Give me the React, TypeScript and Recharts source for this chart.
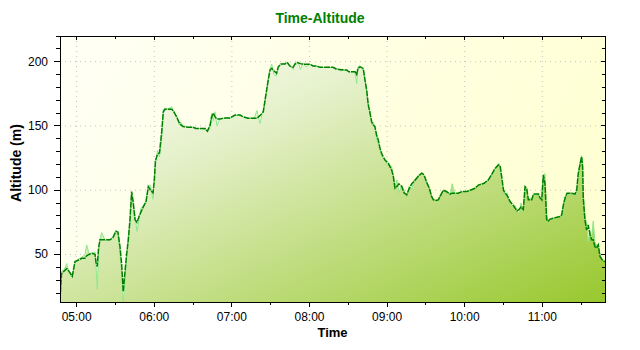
import React from "react";
import { ComposedChart, Area, Line, XAxis, YAxis, CartesianGrid } from "recharts";

// minutes since midnight
const minutes = [
  287.1, 288.3, 290.2, 292.3, 294.0, 296.6, 298.7, 301.0, 304.1, 306.4,
  307.7, 309.5, 311.8, 314.2, 314.9, 315.9, 316.9, 318.0, 319.3, 321.9,
  325.7, 328.0, 330.4, 331.9, 333.5, 334.8, 336.0, 337.3, 338.7, 339.9,
  341.2, 342.5, 343.8, 345.1, 346.6, 348.2, 349.7, 351.5, 353.6, 355.4,
  357.1, 359.0, 360.0, 360.9, 362.5, 364.0, 365.7, 367.0, 368.3, 370.6,
  373.5, 375.2, 377.3, 379.1, 380.6, 382.2, 386.1, 389.9, 392.2, 396.9,
  399.2, 401.1, 403.1, 404.4, 405.6, 406.9, 408.5, 410.8, 414.7, 418.5,
  422.4, 426.3, 428.6, 432.5, 437.1, 439.4, 441.7, 444.3, 445.6, 446.9,
  448.1, 449.5, 450.8, 452.5, 454.5, 455.9, 458.0, 461.1, 463.0, 464.9,
  467.3, 468.8, 471.1, 473.0, 475.0, 477.3, 480.4, 482.7, 485.8, 488.1,
  492.8, 498.2, 500.5, 504.4, 508.8, 510.5, 515.2, 516.5, 517.5, 519.1,
  521.6, 522.9, 524.2, 525.5, 526.8, 528.1, 529.3, 530.6, 531.9, 533.2,
  534.5, 536.0, 538.4, 540.9, 542.2, 543.5, 544.8, 546.1, 547.7, 549.2,
  551.3, 553.1, 555.2, 557.0, 559.1, 560.8, 562.9, 564.7, 566.8, 568.6,
  570.6, 572.5, 574.5, 575.8, 577.9, 579.6, 580.9, 583.5, 586.1, 588.7,
  590.3, 592.5, 595.1, 598.0, 601.6, 604.2, 608.0, 610.6, 615.0, 618.3,
  621.0, 623.5, 626.1, 627.4, 628.7, 630.0, 631.3, 632.8, 635.1, 637.4,
  639.0, 640.5, 642.1, 643.6, 645.3, 646.7, 648.0, 649.2, 651.9, 653.1,
  657.0, 658.3, 659.6, 660.8, 662.1, 663.4, 664.7, 666.0, 668.3, 671.4,
  673.7, 675.0, 676.3, 677.6, 679.1, 681.4, 683.7, 685.3, 686.6, 687.8,
  689.1, 690.4, 691.2, 691.7, 693.0, 694.3, 695.5, 696.8, 698.1, 699.4,
  700.7, 702.0, 703.3, 704.6, 705.9, 707.3, 708.5,
];

// raw altitude (m), light green
const altitude = [
  30, 37, 38, 43, 36, 32, 44, 46, 48, 50,
  57.5, 51, 50, 52, 42, 23, 50, 62, 67, 61,
  61, 64, 69, 66, 50, 36, 13, 28, 48, 64,
  74, 97, 88, 80, 68, 77, 86, 88, 92, 103,
  104, 93, 110, 120, 131, 126, 140, 163, 164, 163,
  165, 160, 158, 151, 153, 150, 149, 149, 148, 148,
  147, 146, 152, 160, 154, 161, 150, 156, 156, 156,
  158, 158.5, 157, 156, 156, 162, 152, 163, 168, 177,
  186, 195, 198, 190, 189, 195, 198, 199, 199.5, 197,
  194, 199, 200, 194, 199, 196, 198, 197, 196, 195.6,
  195.6, 195.6, 195, 193, 193.5, 192, 192, 183, 196, 197,
  193, 186, 177, 165, 162, 151, 153, 149, 140, 136,
  133, 126, 123, 119, 120, 118, 112, 103, 108, 98,
  104, 100, 95, 103, 101, 108, 110, 112, 113.5, 111,
  107, 102, 95, 93, 92, 92, 96, 100, 99, 96,
  105, 97, 98, 99, 99, 100, 101.5, 104, 105.4, 108,
  112, 116, 121, 118, 106, 101, 96, 98, 90, 87,
  88, 84, 82, 90, 83, 103, 99, 93, 94, 96,
  97, 93, 95, 111, 113, 80, 76, 77, 78, 79,
  79.5, 80, 88, 95, 96, 98, 97, 96, 98, 112,
  121, 127, 122, 98, 80, 74, 60, 69, 62, 76,
  60, 57, 58, 50, 47, 45, 44.5,
];

// smoothed altitude (m), dark green dashed
const smoothed = [
  15, 35, 37, 39, 37, 33, 44.5, 45.5, 47, 47,
  49, 50, 51, 50, 44, 40.6, 55, 61.4, 61.4, 61.4,
  61.4, 63, 68, 67.5, 56, 42, 21, 36, 51, 61,
  77, 99, 90, 77, 75, 79.5, 83, 87, 91, 102.8,
  100, 98, 106.7, 123, 128, 129, 145, 161, 163, 163,
  163, 161, 157, 153, 150.8, 149.5, 149, 149, 148, 148,
  148, 146, 150, 157, 160, 157.2, 155.4, 155.4, 156.2, 156.2,
  158.5, 158.5, 157.2, 156, 156, 156, 158, 161, 170, 178,
  185.8, 193.5, 194.8, 193, 191, 196, 198.2, 198.2, 199.2, 196.6,
  195.6, 198.2, 199.2, 198.5, 198, 198, 198, 196.7, 196.7, 195.6,
  195.6, 195.6, 194.3, 193.8, 193.5, 192.2, 192.2, 190, 194.8, 196,
  194.8, 185.8, 178, 166.3, 160, 153.3, 150.8, 149.5, 143, 139,
  132.7, 128, 123.5, 121, 118.4, 115.8, 111, 101.5, 103, 105,
  103, 98, 96.4, 101, 105, 106.7, 109.3, 111.5, 113.2, 112,
  106, 102, 95, 92.5, 92, 92.5, 95, 100, 98.8, 97,
  97.7, 97.7, 97.7, 98.9, 98.9, 100, 101.5, 104, 105.4, 108,
  112.5, 117, 119.7, 119, 110, 100, 97.7, 96, 91.2, 88.5,
  86, 84, 85, 87, 85, 102.8, 101.5, 92.5, 92.5, 97,
  97, 94, 92.5, 112, 105, 77, 76, 77.5, 78.2, 79,
  79.5, 80.8, 88.6, 93.8, 97.7, 97.7, 97.4, 97, 100, 113,
  119.7, 126, 118, 93.8, 77, 69, 73, 66, 61.4, 61.4,
  56, 55, 57.5, 48.4, 46.5, 45, 44.5,
];

const timeTicks = [300, 330, 360, 390, 420, 450, 480, 510, 540, 570, 600, 630, 660, 690];
const hourTicks = [300, 360, 420, 480, 540, 600, 660];
const altTicks = [20, 30, 40, 50, 60, 70, 80, 90, 100, 110, 120, 130, 140, 150, 160, 170, 180, 190, 200, 210, 220];
const altMajor = [50, 100, 150, 200];

const timeDomain = [287.1, 708.5];
const altDomain = [13, 220];

const data = minutes.map((t, i) => ({ t, raw: altitude[i], smooth: smoothed[i] }));

const FONT = "'Liberation Sans', Arial, sans-serif";

function fmtTime(m: number) {
  const h = Math.floor(m / 60);
  const mm = m % 60;
  return `${String(h).padStart(2, "0")}:${String(mm).padStart(2, "0")}`;
}

function LeftTick(props: any) {
  const { x, y, payload } = props;
  const major = altMajor.includes(payload.value);
  return (
    <g>
      <line x1={x} x2={x - (major ? 6 : 4)} y1={y} y2={y} stroke="#000" shapeRendering="crispEdges" />
      {major && (
        <text x={x - 12} y={y + 4} textAnchor="end" fontSize={12} fontFamily={FONT} fill="#000">
          {payload.value}
        </text>
      )}
    </g>
  );
}

function RightTick(props: any) {
  const { x, y, payload } = props;
  const major = altMajor.includes(payload.value);
  return <line x1={x} x2={x - (major ? 4 : 3)} y1={y} y2={y} stroke="#000" shapeRendering="crispEdges" />;
}

function TopTick(props: any) {
  const { x, y, payload } = props;
  const major = hourTicks.includes(payload.value);
  return <line x1={x} x2={x} y1={y} y2={y + (major ? 4 : 3)} stroke="#000" shapeRendering="crispEdges" />;
}

function BottomTick(props: any) {
  const { x, y, payload } = props;
  const major = hourTicks.includes(payload.value);
  return (
    <g>
      <line x1={x} x2={x} y1={y} y2={y + (major ? 5 : 3)} stroke="#000" shapeRendering="crispEdges" />
      {major && (
        <text x={x} y={y + 19} textAnchor="middle" fontSize={12} fontFamily={FONT} fill="#000">
          {fmtTime(payload.value)}
        </text>
      )}
    </g>
  );
}

export default function App() {
  return (
    <div style={{ position: "absolute", left: 0, top: 0, width: 640, height: 350, background: "#fff", fontFamily: FONT }}>
      <div
        style={{
          position: "absolute", left: 0, top: 9, width: 640, textAlign: "center",
          fontSize: 14, fontWeight: "bold", color: "#008000", lineHeight: "18px",
        }}
      >
        Time-Altitude
      </div>
      <div
        style={{
          position: "absolute", left: 0, top: 324, width: 665, textAlign: "center",
          fontSize: 13, fontWeight: "bold", color: "#000", lineHeight: "18px",
        }}
      >
        Time
      </div>
      <div
        style={{
          position: "absolute", left: 16, top: 163, transform: "translate(-50%, -50%) rotate(-90deg)",
          whiteSpace: "nowrap", fontSize: 14, fontWeight: "bold", color: "#000", lineHeight: "16px",
        }}
      >
        Altitude (m)
      </div>
      <ComposedChart width={640} height={350} data={data} margin={{ top: 32, right: 31, left: 0, bottom: 0 }}>
        <defs>
          <linearGradient id="plotBg" x1="0" y1="0" x2="1" y2="0.3">
            <stop offset="0%" stopColor="#FFFFF6" />
            <stop offset="100%" stopColor="#FFFFD4" />
          </linearGradient>
          <linearGradient id="areaFill" x1="0" y1="0" x2="1" y2="1">
            <stop offset="0%" stopColor="#FFFFF8" />
            <stop offset="30%" stopColor="#E6F1CC" />
            <stop offset="60%" stopColor="#C4DF88" />
            <stop offset="100%" stopColor="#98C82E" />
          </linearGradient>
        </defs>
        <CartesianGrid
          fill="url(#plotBg)"
          stroke="#C4C4C4"
          strokeDasharray="1 4"
          horizontalValues={altMajor}
          verticalValues={hourTicks}
        />
        <XAxis
          dataKey="t"
          type="number"
          domain={timeDomain}
          ticks={timeTicks}
          interval={0}
          allowDataOverflow
          height={48}
          tickSize={0}
          tickMargin={0}
          tickLine={false}
          axisLine={false}
          tick={<BottomTick />}
        />
        <XAxis
          xAxisId="top"
          orientation="top"
          dataKey="t"
          type="number"
          domain={timeDomain}
          ticks={timeTicks}
          interval={0}
          allowDataOverflow
          height={4}
          tickSize={0}
          tickMargin={0}
          tickLine={false}
          axisLine={false}
          tick={<TopTick />}
        />
        <YAxis
          type="number"
          domain={altDomain}
          ticks={altTicks}
          interval={0}
          allowDataOverflow
          width={60}
          tickSize={0}
          tickMargin={0}
          tickLine={false}
          axisLine={false}
          tick={<LeftTick />}
        />
        <YAxis
          yAxisId="right"
          orientation="right"
          type="number"
          domain={altDomain}
          ticks={altTicks}
          interval={0}
          allowDataOverflow
          width={4}
          tickSize={0}
          tickMargin={0}
          tickLine={false}
          axisLine={false}
          tick={<RightTick />}
        />
        <Area
          type="linear"
          dataKey="raw"
          stroke="#8EE88E"
          strokeWidth={1}
          fill="url(#areaFill)"
          fillOpacity={1}
          dot={false}
          activeDot={false}
          isAnimationActive={false}
        />
        <Line
          type="linear"
          dataKey="smooth"
          stroke="#008000"
          strokeWidth={1.5}
          strokeDasharray="6 1"
          dot={false}
          activeDot={false}
          isAnimationActive={false}
        />
        {/* invisible series so the top and right axes get their ticks */}
        <Line
          xAxisId="top"
          yAxisId="right"
          dataKey="smooth"
          stroke="none"
          dot={false}
          activeDot={false}
          legendType="none"
          isAnimationActive={false}
        />
      </ComposedChart>
      {/* plot frame */}
      <div
        style={{
          position: "absolute", left: 60, top: 36, width: 546, height: 267, boxSizing: "border-box",
          border: "1px solid #000", pointerEvents: "none",
        }}
      />
    </div>
  );
}
